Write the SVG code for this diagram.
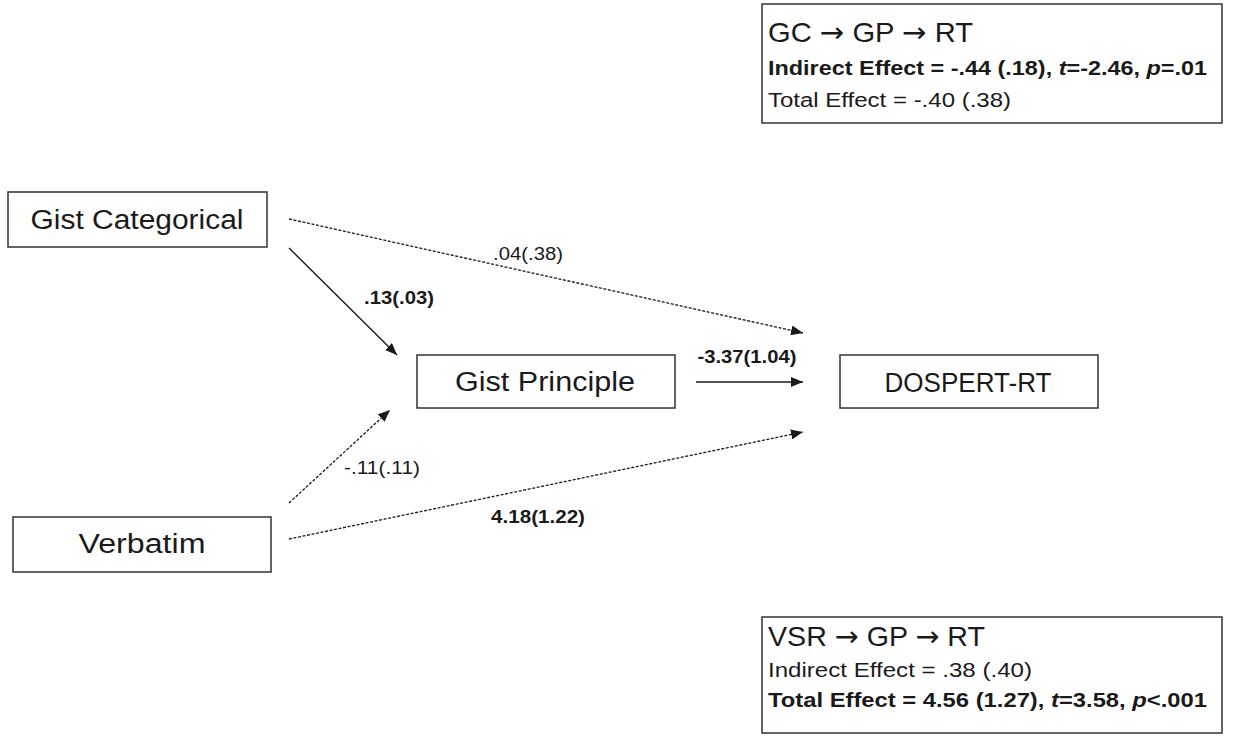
<svg xmlns="http://www.w3.org/2000/svg" width="1233" height="736" viewBox="0 0 1233 736">
<style>
  .box { fill: #ffffff; stroke: #333333; stroke-width: 1.5; }
  .t { font-family: "Liberation Sans", Arial, sans-serif; fill: #1a1a1a; }
  .node { font-size: 27px; text-anchor: middle; }
  .title { font-size: 28px; }
  .line { font-size: 20px; }
  .b { font-weight: bold; }
  .ar { font-family: "DejaVu Sans", sans-serif; }
  .lbl { font-size: 18px; text-anchor: middle; }
  .solid { stroke: #1a1a1a; stroke-width: 1.4; fill: none; }
  .dash { stroke: #1a1a1a; stroke-width: 1.3; fill: none; stroke-dasharray: 3 1.6; }
</style>
<defs>
  <marker id="ah" viewBox="0 0 12 10" refX="12" refY="5" markerWidth="12" markerHeight="10" markerUnits="userSpaceOnUse" orient="auto">
    <path d="M0,0 L12,5 L0,10 Z" fill="#1a1a1a"/>
  </marker>
</defs>
<rect width="1233" height="736" fill="#ffffff"/>

<g id="connectors">
  <line class="solid" x1="289" y1="248" x2="397" y2="355" marker-end="url(#ah)"/>
  <line class="dash" x1="289" y1="219" x2="803" y2="333" marker-end="url(#ah)"/>
  <line class="solid" x1="696" y1="382" x2="803" y2="382" marker-end="url(#ah)"/>
  <line class="dash" x1="289" y1="503" x2="390" y2="410" marker-end="url(#ah)"/>
  <line class="dash" x1="289" y1="539" x2="803" y2="432" marker-end="url(#ah)"/>
  <text class="t lbl b" x="399" y="304" textLength="70" lengthAdjust="spacingAndGlyphs">.13(.03)</text>
  <text class="t lbl" x="528" y="260" textLength="70" lengthAdjust="spacingAndGlyphs">.04(.38)</text>
  <text class="t lbl b" x="747" y="363" textLength="99" lengthAdjust="spacingAndGlyphs">-3.37(1.04)</text>
  <text class="t lbl" x="382" y="474" textLength="76" lengthAdjust="spacingAndGlyphs">-.11(.11)</text>
  <text class="t lbl b" x="538" y="523" textLength="94" lengthAdjust="spacingAndGlyphs">4.18(1.22)</text>
</g>

<g id="gc-summary">
  <rect class="box" x="762" y="4" width="460" height="119"/>
  <text class="t title" x="768" y="42" textLength="205" lengthAdjust="spacingAndGlyphs">GC <tspan class="ar">→</tspan> GP <tspan class="ar">→</tspan> RT</text>
  <text class="t line b" x="768" y="75" textLength="439" lengthAdjust="spacingAndGlyphs">Indirect Effect = -.44 (.18), <tspan font-style="italic">t</tspan>=-2.46, <tspan font-style="italic">p</tspan>=.01</text>
  <text class="t line" x="768" y="107" textLength="243" lengthAdjust="spacingAndGlyphs">Total Effect = -.40 (.38)</text>
</g>

<g id="gist-categorical">
  <rect class="box" x="8" y="192" width="259" height="55"/>
  <text class="t node" x="137" y="229" textLength="213" lengthAdjust="spacingAndGlyphs">Gist Categorical</text>
</g>

<g id="gist-principle">
  <rect class="box" x="417" y="355" width="258" height="53"/>
  <text class="t node" x="545" y="391" textLength="180" lengthAdjust="spacingAndGlyphs">Gist Principle</text>
</g>

<g id="dospert-rt">
  <rect class="box" x="840" y="355" width="258" height="53"/>
  <text class="t node" x="968" y="392" textLength="167" lengthAdjust="spacingAndGlyphs">DOSPERT-RT</text>
</g>

<g id="verbatim">
  <rect class="box" x="13" y="517" width="258" height="55"/>
  <text class="t node" x="142" y="553" textLength="127" lengthAdjust="spacingAndGlyphs">Verbatim</text>
</g>

<g id="vsr-summary">
  <rect class="box" x="762" y="617" width="460" height="116"/>
  <text class="t title" x="768" y="646" textLength="217" lengthAdjust="spacingAndGlyphs">VSR <tspan class="ar">→</tspan> GP <tspan class="ar">→</tspan> RT</text>
  <text class="t line" x="768" y="677" textLength="264" lengthAdjust="spacingAndGlyphs">Indirect Effect = .38 (.40)</text>
  <text class="t line b" x="768" y="707" textLength="439" lengthAdjust="spacingAndGlyphs">Total Effect = 4.56 (1.27), <tspan font-style="italic">t</tspan>=3.58, <tspan font-style="italic">p</tspan>&lt;.001</text>
</g>
</svg>
